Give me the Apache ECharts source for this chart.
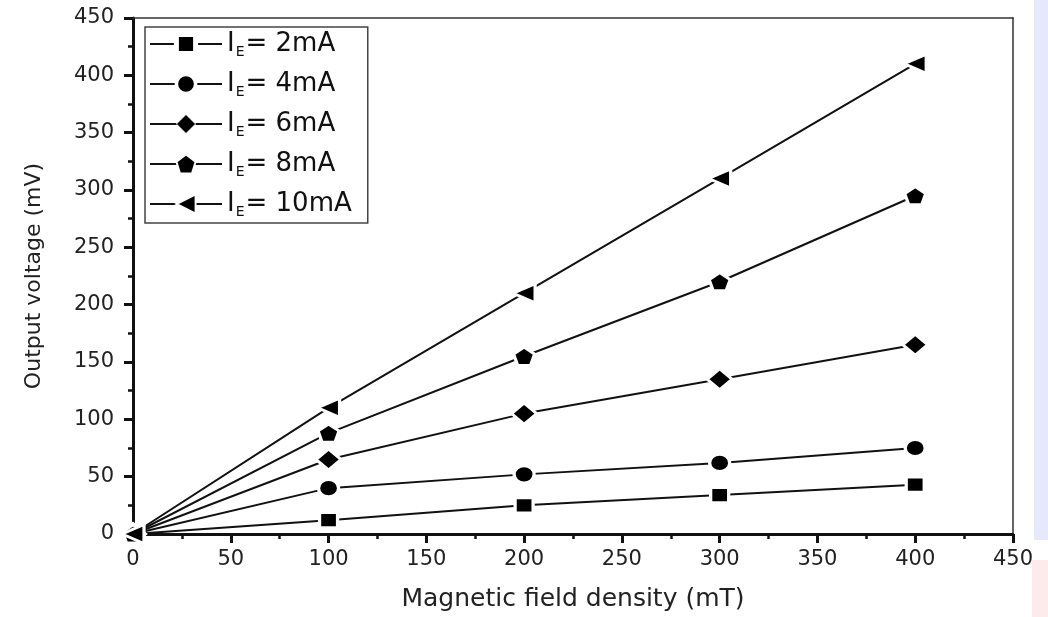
<!DOCTYPE html>
<html>
<head>
<meta charset="utf-8">
<script src="https://cdn.jsdelivr.net/npm/echarts@6/dist/echarts.min.js"></script>
<style>
    html, body { margin: 0; padding: 0; background: #fff; }
    #main { width: 1048px; height: 617px; }
</style>
</head>
<body>
<div id="main"></div>
<script>
// field density (mT)
var fieldVals = [0, 100, 200, 300, 400];
// output voltage (mV) per emitter current
var ie2 = [0, 12, 25, 34, 43];
var ie4 = [0, 40, 52, 62, 75];
var ie6 = [0, 65, 105, 135, 165];
var ie8 = [0, 88, 155, 220, 295];
var ie10 = [0, 110, 210, 310, 410];
var seriesNames = ['2mA', '4mA', '6mA', '8mA', '10mA'];

var pentagon = 'path://M0,-10 L9.5,-3.1 L5.9,8.1 L-5.9,8.1 L-9.5,-3.1 Z';
var FONT = 'DejaVu Sans';

function pairs(ys) {
    return fieldVals.map(function (x, i) { return [x, ys[i]]; });
}

function makeSeries(name, ys, symbol, size, rotate) {
    return {
        name: name,
        type: 'line',
        data: pairs(ys),
        symbol: symbol,
        symbolSize: size,
        symbolRotate: rotate || 0,
        showAllSymbol: true,
        lineStyle: {color: '#111', width: 2},
        itemStyle: {color: '#000', borderColor: '#fff', borderWidth: 3},
        emphasis: {disabled: true},
        z: 3
    };
}

// legend marker: white rim shrinks the visible glyph
function legendItem(name, rim) {
    return {name: name, itemStyle: {borderColor: '#fff', borderWidth: rim}};
}

var myChart = echarts.init(document.getElementById('main'));

var option = {
    backgroundColor: '#fff',
    animation: false,
    textStyle: {fontFamily: FONT, color: '#222'},
    grid: {left: 133, right: 35, top: 18, bottom: 83},
    legend: {
        orient: 'vertical',
        left: 145,
        top: 27,
        itemWidth: 72,
        itemHeight: 24,
        itemGap: 12,
        padding: [4, 16, 4, 4],
        borderColor: '#444',
        borderWidth: 1.5,
        backgroundColor: '#fff',
        data: [
            legendItem('2mA', 5),
            legendItem('4mA', 3.5),
            legendItem('6mA', 1),
            legendItem('8mA', 2),
            legendItem('10mA', 2)
        ],
        formatter: function (name) {
            return '{i|I}{s|E}{t|= ' + name + '}';
        },
        textStyle: {
            rich: {
                i: {fontSize: 26, color: '#111', fontFamily: FONT},
                s: {fontSize: 14, color: '#111', fontFamily: FONT, verticalAlign: 'bottom', padding: [16, 1, 0, 1]},
                t: {fontSize: 26, color: '#111', fontFamily: FONT}
            }
        }
    },
    xAxis: [{
        type: 'value',
        min: 0,
        max: 450,
        interval: 50,
        name: 'Magnetic field density (mT)',
        nameLocation: 'middle',
        nameGap: 53,
        nameTextStyle: {fontSize: 25, color: '#222', fontFamily: FONT},
        axisLine: {onZero: false, lineStyle: {color: '#111', width: 3}},
        axisTick: {show: true, inside: false, length: 9, lineStyle: {width: 3, color: '#111'}},
        minorTick: {show: true, splitNumber: 2, length: 5, lineStyle: {width: 2.5, color: '#111'}},
        axisLabel: {fontSize: 21, color: '#222', margin: 15, fontFamily: FONT},
        splitLine: {show: false}
    }, {
        type: 'value',
        position: 'top',
        min: 0,
        max: 450,
        axisLine: {show: true, onZero: false, lineStyle: {color: '#333', width: 1.5}},
        axisTick: {show: false},
        axisLabel: {show: false},
        splitLine: {show: false}
    }],
    yAxis: [{
        type: 'value',
        min: 0,
        max: 450,
        interval: 50,
        name: 'Output voltage (mV)',
        nameLocation: 'middle',
        nameGap: 88,
        nameTextStyle: {fontSize: 22, color: '#222', fontFamily: FONT},
        axisLine: {show: true, onZero: false, lineStyle: {color: '#111', width: 3}},
        axisTick: {show: true, inside: false, length: 9, lineStyle: {width: 3, color: '#111'}},
        minorTick: {show: true, splitNumber: 2, length: 5, lineStyle: {width: 2.5, color: '#111'}},
        axisLabel: {fontSize: 21, color: '#222', margin: 19, fontFamily: FONT},
        splitLine: {show: false}
    }, {
        type: 'value',
        position: 'right',
        min: 0,
        max: 450,
        axisLine: {show: true, onZero: false, lineStyle: {color: '#333', width: 1.5}},
        axisTick: {show: false},
        axisLabel: {show: false},
        splitLine: {show: false}
    }],
    graphic: [
        // faint colour strips at the right edge of the scanned figure
        {type: 'rect', shape: {x: 1034, y: 0, width: 14, height: 540}, style: {fill: '#e6e8fb'}, silent: true, z: -1},
        {type: 'rect', shape: {x: 1032, y: 560, width: 16, height: 57}, style: {fill: '#fdeaea'}, silent: true, z: -1}
    ],
    series: [
        makeSeries('2mA', ie2, 'rect', [18, 15]),
        makeSeries('4mA', ie4, 'circle', [20, 17]),
        makeSeries('6mA', ie6, 'diamond', [25, 21]),
        makeSeries('8mA', ie8, pentagon, [21, 18]),
        makeSeries('10mA', ie10, 'triangle', [19, 22], 90)
    ]
};

myChart.setOption(option);
</script>
</body>
</html>
